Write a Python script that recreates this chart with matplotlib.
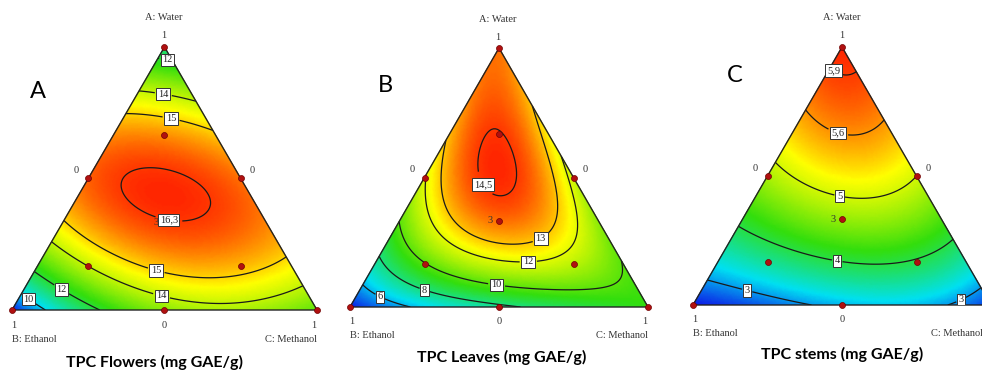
import numpy as np
import matplotlib
matplotlib.use("Agg")
import matplotlib.pyplot as plt
import matplotlib.tri as mtri
from matplotlib.colors import LinearSegmentedColormap

# ---------------- data: readings (water, ethanol, methanol, TPC) ----------------
# Panel A: TPC Flowers
flw_water    = [1.00, 0.00, 0.00, 0.95, 0.83, 0.75, 0.50, 0.315, 0.255, 0.15, 0.076,
                0.95, 0.78, 0.68, 0.50, 0.20, 0.10, 0.05, 0.00, 0.00, 0.00, 0.00, 0.00, 0.00,
                0.125, 0.24, 0.152, 0.027, 0.038, 0.065, 0.433, 0.494, 0.407, 0.525, 0.342]
flw_ethanol  = [0.00, 1.00, 0.00, 0.05, 0.17, 0.25, 0.50, 0.685, 0.745, 0.85, 0.924,
                0.00, 0.00, 0.00, 0.00, 0.00, 0.00, 0.00, 0.892, 0.705, 0.325, 0.50, 0.20, 0.10,
                0.305, 0.575, 0.127, 0.298, 0.479, 0.115, 0.278, 0.382, 0.153, 0.284, 0.261]
flw_methanol = [0.00, 0.00, 1.00, 0.00, 0.00, 0.00, 0.00, 0.00, 0.00, 0.00, 0.00,
                0.05, 0.22, 0.32, 0.50, 0.80, 0.90, 0.95, 0.108, 0.295, 0.675, 0.50, 0.80, 0.90,
                0.570, 0.185, 0.721, 0.675, 0.483, 0.820, 0.289, 0.124, 0.440, 0.191, 0.397]
flw_tpc      = [11.3, 8.6, 13.0, 12, 14, 15, 15.9, 15, 14, 12, 10,
                12, 14, 15, 16.0, 15, 14, 13.5, 10, 12, 13.8, 13.3, 13.6, 13.3,
                15, 15, 15, 14, 14, 14, 16.6, 16.3, 16.3, 16.3, 16.3]
flw_levels = [10, 12, 14, 15, 16.3]

# Panel B: TPC Leaves
lvs_water    = [1.00, 0.00, 0.00, 0.68, 0.49, 0.33, 0.19, 0.10, 0.79, 0.58, 0.20, 0.00, 0.00,
                0.672, 0.44, 0.548, 0.548, 0.56,
                0.232, 0.44, 0.297, 0.478, 0.297,
                0.355, 0.174, 0.20, 0.31,
                0.104, 0.117, 0.066, 0.169, 0.066, 0.034]
lvs_ethanol  = [0.00, 1.00, 0.00, 0.32, 0.51, 0.67, 0.81, 0.90, 0.00, 0.00, 0.00, 0.82, 0.44,
                0.165, 0.285, 0.291, 0.177, 0.232,
                0.38, 0.091, 0.156, 0.452, 0.481,
                0.063, 0.409, 0.178, 0.553,
                0.451, 0.041, 0.256, 0.669, 0.709, 0.614]
lvs_methanol = [0.00, 0.00, 1.00, 0.00, 0.00, 0.00, 0.00, 0.00, 0.21, 0.42, 0.80, 0.18, 0.56,
                0.163, 0.275, 0.157, 0.275, 0.208,
                0.388, 0.469, 0.547, 0.07, 0.222,
                0.582, 0.417, 0.622, 0.137,
                0.445, 0.842, 0.678, 0.162, 0.225, 0.352]
lvs_tpc      = [14.0, 4.3, 9.5, 13, 12, 10, 8, 6, 13, 12, 10, 6, 8,
                14.5, 14.5, 14.5, 14.5, 14.8,
                13, 13, 13, 13, 13,
                12, 12, 12, 12,
                10, 10, 10, 10, 8, 8]
lvs_levels = [6, 8, 10, 12, 13, 14.5]

# Panel C: TPC stems
stm_water    = [1.00, 0.00, 0.00, 0.95, 0.736, 0.57, 0.30, 0.097, 0.95, 0.705, 0.51, 0.25, 0.07,
                0.00, 0.00, 0.64, 0.426, 0.167, 0.94]
stm_ethanol  = [0.00, 1.00, 0.00, 0.05, 0.264, 0.43, 0.70, 0.903, 0.00, 0.00, 0.00, 0.00, 0.00,
                0.60, 0.145, 0.18, 0.287, 0.4165, 0.03]
stm_methanol = [0.00, 0.00, 1.00, 0.00, 0.00, 0.00, 0.00, 0.00, 0.05, 0.295, 0.49, 0.75, 0.93,
                0.40, 0.855, 0.18, 0.287, 0.4165, 0.03]
stm_tpc      = [6.05, 2.5, 2.6, 5.9, 5.6, 5, 4, 3, 5.9, 5.6, 5, 4, 3,
                3, 3, 5.6, 5, 4, 5.9]
stm_levels = [3, 4, 5, 5.6, 5.9]

# design points of the mixture design
dp_water    = [1, 0, 0, 0.5, 0.5, 0, 1/3, 2/3, 1/6, 1/6]
dp_ethanol  = [0, 1, 0, 0.5, 0, 0.5, 1/3, 1/6, 2/3, 1/6]
dp_methanol = [0, 0, 1, 0, 0.5, 0.5, 1/3, 1/6, 1/6, 2/3]

titles = ["TPC Flowers (mg GAE/g)", "TPC Leaves (mg GAE/g)", "TPC stems (mg GAE/g)"]
letters = ["A", "B", "C"]

# ---------------- helpers ----------------
H = np.sqrt(3) / 2

def to_xy(a, b, c):
    a = np.asarray(a, float); c = np.asarray(c, float)
    return c + a / 2, a * H

def terms(a, b, c):
    return np.column_stack([a, b, c, a*b, a*c, b*c, a*b*c,
                            a*b*(a-b), a*c*(a-c), b*c*(b-c),
                            a*a*b*c, a*b*b*c, a*b*c*c])

def fit(a, b, c, y):
    a, b, c, y = map(lambda v: np.asarray(v, float), (a, b, c, y))
    X = terms(a, b, c)
    lam = 1e-4
    coef = np.linalg.solve(X.T @ X + lam * np.eye(X.shape[1]), X.T @ y)
    return coef

cmap = LinearSegmentedColormap.from_list("de", [
    (0.00, (0.05, 0.10, 0.90)),
    (0.22, (0.00, 0.88, 0.95)),
    (0.50, (0.20, 0.87, 0.05)),
    (0.78, (1.00, 1.00, 0.00)),
    (0.90, (1.00, 0.55, 0.00)),
    (1.00, (1.00, 0.15, 0.00)),
])

W, HH = 982, 372
fig = plt.figure(figsize=(W/100, HH/100), dpi=100)
fig.patch.set_facecolor("white")

def px(x, y):
    return x / W, 1 - y / HH

serif = "Liberation Serif"
sans = "Lato"

panels = [
    dict(data=(flw_water, flw_ethanol, flw_methanol, flw_tpc), levels=flw_levels,
         tri=((12, 310), (317, 310), (164, 47)),
         labels=[(168, 58), (164, 90), (172, 114), (170, 212), (158, 264), (163, 290), (66, 282), (32, 294)],
         letter=(38, 92), right_one=True, title_pos=(155, 362)),
    dict(data=(lvs_water, lvs_ethanol, lvs_methanol, lvs_tpc), levels=lvs_levels,
         tri=((350, 307), (648, 307), (498, 48)),
         labels=[(477, 188), (540, 237), (528, 254), (497, 282), (427, 283), (380, 297)],
         letter=(385, 86), right_one=True, title_pos=(502, 357)),
    dict(data=(stm_water, stm_ethanol, stm_methanol, stm_tpc), levels=stm_levels,
         tri=((693, 305), (991, 305), (842, 47)),
         labels=[(841, 60), (838, 133), (841, 189), (838, 256), (748, 287), (958, 293)],
         letter=(735, 76), right_one=False, title_pos=(842, 354)),
]

n = 160
ii, jj = np.meshgrid(np.arange(n + 1), np.arange(n + 1))
mask = ii + jj <= n
ga = (ii[mask] / n).astype(float)
gc = (jj[mask] / n).astype(float)
gb = 1 - ga - gc
gx, gy = to_xy(ga, gb, gc)
tri = mtri.Triangulation(gx, gy)

for k, p in enumerate(panels):
    (blx, bly), (brx, bry), (apx, apy) = p["tri"]
    ax = fig.add_axes([blx / W, 1 - bly / HH, (brx - blx) / W, (bly - apy) / HH])
    ax.set_xlim(0, 1); ax.set_ylim(0, H)
    ax.axis("off")

    a, b, c, y = p["data"]
    coef = fit(a, b, c, y)
    z = terms(ga, gb, gc) @ coef

    ax.tripcolor(tri, z, cmap=cmap, shading="gouraud", vmin=z.min(), vmax=z.max())
    cs = ax.tricontour(tri, z, levels=p["levels"], colors="#1a1a1a", linewidths=0.9)

    def d(pxy):
        x, yy = pxy
        return ((x - blx) / (brx - blx), (bly - yy) / (bly - apy) * H)
    manual = [d(q) for q in p["labels"]]
    texts = ax.clabel(cs, manual=manual, inline=True, inline_spacing=2,
                      fmt=lambda v: f"{v:g}".replace(".", ","), fontsize=7.5)
    for t in texts:
        t.set_fontfamily(serif)
        t.set_color("#222222")
        t.set_rotation(0)
        t.set_zorder(6)
        t.set_bbox(dict(facecolor="white", edgecolor="#333333", linewidth=0.7, pad=1.2))

    ax.plot([0, 1, 0.5, 0], [0, 0, H, 0], color="#222222", lw=1.0, clip_on=False)
    dx, dy = to_xy(dp_water, dp_ethanol, dp_methanol)
    ax.plot(dx, dy, "o", ms=4.3, color="#b01010", mec="#700000", mew=0.5, clip_on=False, zorder=5)

    # text annotations
    fs = 7.5
    tc = "#333333"
    fig.text(*px(apx, apy - 29), "A: Water", fontfamily=serif, fontsize=fs, ha="center", va="center", color=tc)
    fig.text(*px(apx, apy - 11), "1", fontfamily=serif, fontsize=fs, ha="center", va="center", color=tc)
    midy = (apy + bly) / 2 - 8
    lx = (blx + apx) / 2 - 12
    rx = (brx + apx) / 2 + 12
    fig.text(*px(lx, midy), "0", fontfamily=serif, fontsize=fs, ha="center", va="center", color=tc)
    fig.text(*px(rx, midy), "0", fontfamily=serif, fontsize=fs, ha="center", va="center", color=tc)
    fig.text(*px(blx + 2, bly + 15), "1", fontfamily=serif, fontsize=fs, ha="center", va="center", color=tc)
    fig.text(*px((blx + brx) / 2, bly + 15), "0", fontfamily=serif, fontsize=fs, ha="center", va="center", color=tc)
    if p["right_one"]:
        fig.text(*px(brx - 3, bly + 15), "1", fontfamily=serif, fontsize=fs, ha="center", va="center", color=tc)
    fig.text(*px(blx, bly + 29), "B: Ethanol", fontfamily=serif, fontsize=fs, ha="left", va="center", color=tc)
    if p["right_one"]:
        fig.text(*px(brx, bly + 29), "C: Methanol", fontfamily=serif, fontsize=fs, ha="right", va="center", color=tc)
    else:
        fig.text(*px(brx - 60, bly + 29), "C: Methanol", fontfamily=serif, fontsize=fs, ha="left", va="center", color=tc)
    cx, cy = to_xy(1/3, 1/3, 1/3)
    ax.text(cx - 0.02, cy, "3", fontfamily=serif, fontsize=fs, ha="right", va="center", color=tc)

    fig.text(*px(*p["letter"]), letters[k], fontfamily=sans, fontsize=17, ha="center", va="center", color="black")
    fig.text(*px(*p["title_pos"]), titles[k], fontfamily=sans, fontsize=11.5,
             fontweight="bold", ha="center", va="center", color="black")

fig.savefig("out.png", dpi=100, facecolor="white")
